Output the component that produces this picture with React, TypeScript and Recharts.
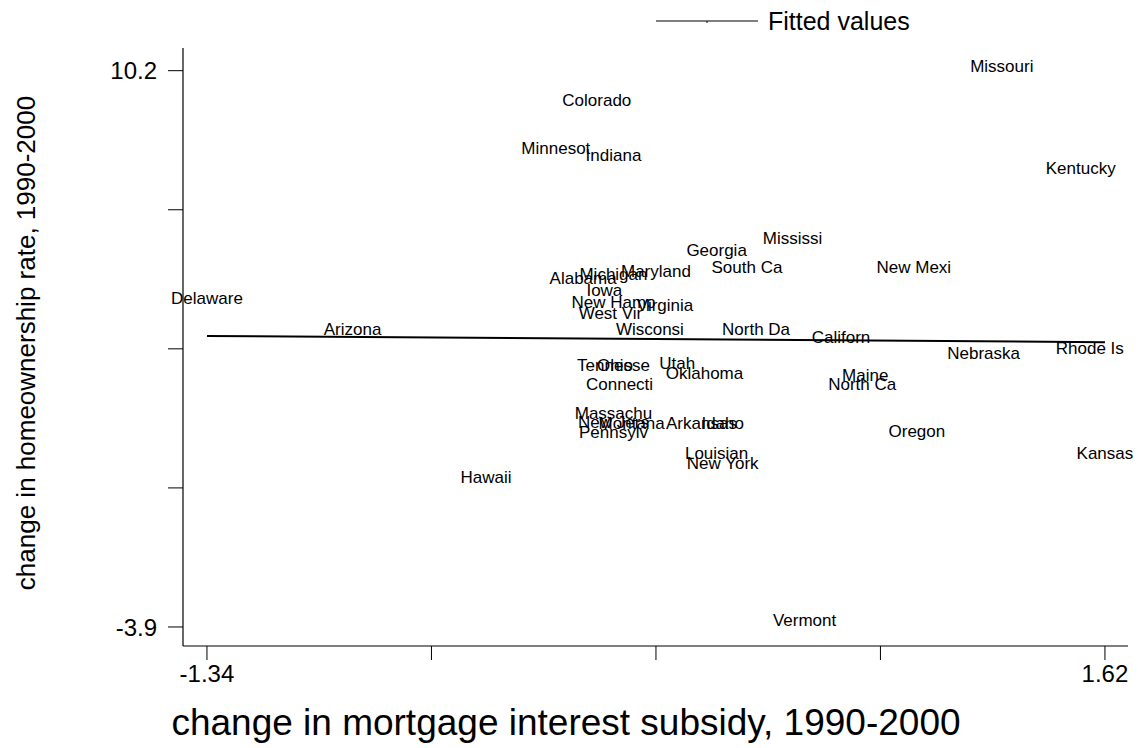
import { ScatterChart, Scatter, XAxis, YAxis, Legend, Label } from 'recharts';

const states = [
    'Missouri', 'Colorado', 'Minnesot', 'Indiana', 'Kentucky', 'Mississi', 'Georgia', 'South Ca',
    'New Mexi', 'Maryland', 'Michigan', 'Alabama', 'Iowa', 'New Hamp', 'Virginia', 'West Vir',
    'Wisconsi', 'North Da', 'Californ', 'Nebraska', 'Rhode Is', 'Arizona', 'Delaware', 'Tennesse',
    'Ohio', 'Utah', 'Oklahoma', 'Connecti', 'Maine', 'North Ca', 'Massachu', 'New Jers',
    'Montana', 'Arkansas', 'Idaho', 'Pennsylv', 'Louisian', 'New York', 'Oregon', 'Kansas',
    'Hawaii', 'Vermont'
];
const subsidy = [
    1.28, -0.055, -0.19, 0.0, 1.54, 0.59, 0.34, 0.44,
    0.99, 0.14, 0.0, -0.1, -0.03, 0.0, 0.17, -0.01,
    0.12, 0.47, 0.75, 1.22, 1.57, -0.86, -1.34, 0.0,
    0.005, 0.21, 0.3, 0.02, 0.83, 0.82, 0.0, 0.0,
    0.06, 0.29, 0.36, 0.0, 0.34, 0.36, 1.0, 1.62,
    -0.42, 0.63
];
const ownership = [
    10.2, 9.34, 8.12, 7.95, 7.62, 5.85, 5.54, 5.11,
    5.11, 5.01, 4.93, 4.83, 4.53, 4.23, 4.15, 3.95,
    3.54, 3.54, 3.34, 2.93, 3.06, 3.54, 4.33, 2.63,
    2.63, 2.68, 2.43, 2.15, 2.38, 2.15, 1.42, 1.19,
    1.16, 1.16, 1.16, 0.93, 0.4, 0.15, 0.96, 0.4,
    -0.21, -3.83
];

// fitted values at the ends of the x range
const fitX = [-1.34, 1.62];
const fitY = [3.475, 3.32];

const xTicks = [-1.34, -0.6, 0.14, 0.88, 1.62];
const xTickLabels = ['-1.34', '', '', '', '1.62'];
const yTicks = [10.2, 6.675, 3.15, -0.375, -3.9];
const yTickLabels = ['10.2', '', '', '', '-3.9'];

const FONT = '"Liberation Sans", Arial, Helvetica, sans-serif';

const points = states.map((state, i) => ({ state, x: subsidy[i], y: ownership[i] }));
const fitted = fitX.map((x, i) => ({ x, y: fitY[i] }));

const StateLabel = (props: any) => {
    const { cx, cy, payload } = props;
    return (
        <text
            x={cx}
            y={cy - 4}
            textAnchor="middle"
            dominantBaseline="central"
            fontFamily={FONT}
            fontSize={17}
            fill="#000"
        >
            {payload.state}
        </text>
    );
};

const FitLegend = () => (
    <svg width={1138} height={44}>
        <line x1={656} y1={21} x2={758} y2={21} stroke="#000" strokeWidth={1.2} />
        <line x1={707} y1={21} x2={707} y2={23} stroke="#000" strokeWidth={1} />
        <text x={768} y={21} dominantBaseline="central" fontFamily={FONT} fontSize={25} fill="#000">
            Fitted values
        </text>
    </svg>
);

export default function App() {
    return (
        <div style={{ position: 'absolute', left: 0, top: 0, width: 1138, height: 748, background: '#fff' }}>
            <ScatterChart width={1138} height={748} margin={{ top: 48, right: 10, bottom: 2, left: 83 }}>
                <XAxis
                    type="number"
                    dataKey="x"
                    domain={[-1.419, 1.696]}
                    ticks={xTicks}
                    height={100}
                    tickSize={14}
                    tickMargin={5}
                    tickFormatter={(v, i) => xTickLabels[i]}
                    axisLine={{ stroke: '#000', strokeWidth: 1.2 }}
                    tickLine={{ stroke: '#000', strokeWidth: 1 }}
                    tick={{ fill: '#000', fontSize: 24, fontFamily: FONT }}
                >
                    <Label
                        content={() => (
                            <text x={566} y={722} textAnchor="middle" dominantBaseline="central" fontFamily={FONT} fontSize={37} fill="#000">
                                change in mortgage interest subsidy, 1990-2000
                            </text>
                        )}
                    />
                </XAxis>
                <YAxis
                    type="number"
                    dataKey="y"
                    domain={[-4.382, 10.775]}
                    ticks={yTicks}
                    width={100}
                    tickSize={15}
                    tickMargin={11}
                    tickFormatter={(v, i) => yTickLabels[i]}
                    axisLine={{ stroke: '#000', strokeWidth: 1.2 }}
                    tickLine={{ stroke: '#000', strokeWidth: 1 }}
                    tick={{ fill: '#000', fontSize: 24, fontFamily: FONT }}
                >
                    <Label
                        content={() => (
                            <text
                                x={26}
                                y={343}
                                transform="rotate(-90, 26, 343)"
                                textAnchor="middle"
                                dominantBaseline="central"
                                fontFamily={FONT}
                                fontSize={26}
                                fill="#000"
                            >
                                change in homeownership rate, 1990-2000
                            </text>
                        )}
                    />
                </YAxis>
                <Legend
                    verticalAlign="middle"
                    align="center"
                    content={FitLegend}
                    wrapperStyle={{ position: 'absolute', top: 0, left: 0, width: 1138 }}
                />
                <Scatter data={points} shape={StateLabel} isAnimationActive={false} legendType="none" />
                <Scatter
                    data={fitted}
                    line={{ stroke: '#000', strokeWidth: 2 }}
                    shape={() => <g />}
                    isAnimationActive={false}
                    legendType="line"
                />
            </ScatterChart>
        </div>
    );
}
